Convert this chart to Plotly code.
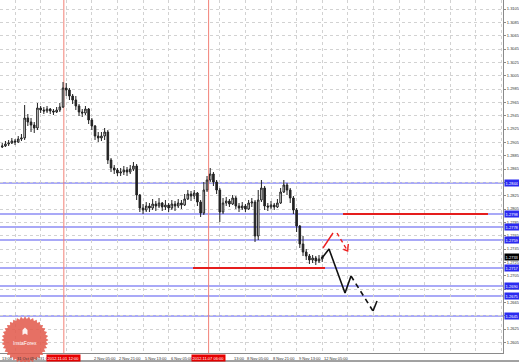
import plotly.graph_objects as go
import numpy as np

# ---------------- data ----------------
# bar position = trading hours after 31 Oct 2012 05:00 (2-hour candles)
BAR_HOURS = list(range(-8, 193, 2))

OPEN = [1.28980, 1.28995, 1.29025, 1.29040, 1.29070, 1.29055, 1.29100, 1.29115, 1.29415, 1.29355,
        1.29310, 1.29265, 1.29565, 1.29535, 1.29520, 1.29550, 1.29520, 1.29505, 1.29535, 1.29580,
        1.29865, 1.29835, 1.29745, 1.29685, 1.29595, 1.29505, 1.29490, 1.29550, 1.29385, 1.29295,
        1.29145, 1.29115, 1.29145, 1.29205, 1.28785, 1.28665, 1.28635, 1.28590, 1.28605, 1.28635,
        1.28605, 1.28650, 1.28695, 1.28260, 1.28065, 1.28035, 1.28095, 1.28065, 1.28125, 1.28095,
        1.28140, 1.28080, 1.28110, 1.28065, 1.28125, 1.28095, 1.28140, 1.28110, 1.28200, 1.28275,
        1.28245, 1.28290, 1.28155, 1.27990, 1.28335, 1.28485, 1.28575, 1.28455, 1.28335, 1.28005,
        1.28140, 1.28170, 1.28125, 1.28215, 1.28095, 1.28065, 1.28095, 1.28050, 1.28140, 1.28155,
        1.27645, 1.28185, 1.28365, 1.28095, 1.28080, 1.28110, 1.28080, 1.28140, 1.28305, 1.28410,
        1.28335, 1.28215, 1.28035, 1.27795, 1.27525, 1.27405, 1.27345, 1.27285, 1.27315, 1.27270,
        1.27300]
HIGH = [1.29040, 1.29070, 1.29085, 1.29115, 1.29100, 1.29145, 1.29175, 1.29610, 1.29475, 1.29415,
        1.29355, 1.29640, 1.29595, 1.29580, 1.29595, 1.29565, 1.29550, 1.29580, 1.29640, 1.29955,
        1.29940, 1.29865, 1.29775, 1.29745, 1.29625, 1.29550, 1.29595, 1.29565, 1.29415, 1.29310,
        1.29205, 1.29205, 1.29265, 1.29235, 1.28815, 1.28710, 1.28665, 1.28665, 1.28695, 1.28680,
        1.28710, 1.28755, 1.28725, 1.28275, 1.28125, 1.28155, 1.28140, 1.28200, 1.28170, 1.28215,
        1.28155, 1.28185, 1.28140, 1.28185, 1.28170, 1.28200, 1.28185, 1.28275, 1.28335, 1.28320,
        1.28335, 1.28305, 1.28185, 1.28455, 1.28545, 1.28665, 1.28605, 1.28485, 1.28365, 1.28215,
        1.28230, 1.28200, 1.28260, 1.28245, 1.28140, 1.28155, 1.28125, 1.28185, 1.28215, 1.28185,
        1.28335, 1.28485, 1.28395, 1.28140, 1.28170, 1.28140, 1.28200, 1.28365, 1.28485, 1.28440,
        1.28365, 1.28245, 1.28065, 1.27810, 1.27645, 1.27450, 1.27375, 1.27360, 1.27345, 1.27360,
        1.27360]
LOW = [1.28965, 1.28980, 1.28995, 1.29025, 1.29010, 1.29040, 1.29070, 1.29085, 1.29295, 1.29205,
       1.29190, 1.29235, 1.29490, 1.29475, 1.29490, 1.29475, 1.29460, 1.29490, 1.29505, 1.29565,
       1.29745, 1.29685, 1.29625, 1.29535, 1.29445, 1.29430, 1.29460, 1.29325, 1.29235, 1.29085,
       1.29055, 1.29070, 1.29085, 1.28725, 1.28605, 1.28575, 1.28545, 1.28545, 1.28560, 1.28545,
       1.28575, 1.28620, 1.28185, 1.28005, 1.27975, 1.28005, 1.28005, 1.28035, 1.28020, 1.28065,
       1.28020, 1.28035, 1.28005, 1.28035, 1.28020, 1.28065, 1.28050, 1.28095, 1.28185, 1.28170,
       1.28200, 1.28095, 1.27930, 1.27960, 1.28305, 1.28455, 1.28395, 1.28275, 1.27855, 1.27975,
       1.28095, 1.28080, 1.28110, 1.28050, 1.28005, 1.28035, 1.28005, 1.28035, 1.28080, 1.27555,
       1.27585, 1.28155, 1.28035, 1.28020, 1.28050, 1.28035, 1.28065, 1.28125, 1.28290, 1.28260,
       1.28140, 1.27975, 1.27705, 1.27465, 1.27345, 1.27285, 1.27225, 1.27240, 1.27210, 1.27240,
       1.27255]
CLOSE = [1.28995, 1.29025, 1.29040, 1.29070, 1.29055, 1.29100, 1.29115, 1.29415, 1.29355, 1.29310,
         1.29265, 1.29565, 1.29535, 1.29520, 1.29550, 1.29520, 1.29505, 1.29535, 1.29580, 1.29865,
         1.29835, 1.29745, 1.29685, 1.29595, 1.29505, 1.29490, 1.29550, 1.29385, 1.29295, 1.29145,
         1.29115, 1.29145, 1.29205, 1.28785, 1.28665, 1.28635, 1.28590, 1.28605, 1.28635, 1.28605,
         1.28650, 1.28695, 1.28260, 1.28065, 1.28035, 1.28095, 1.28065, 1.28125, 1.28095, 1.28140,
         1.28080, 1.28110, 1.28065, 1.28125, 1.28095, 1.28140, 1.28110, 1.28200, 1.28275, 1.28245,
         1.28290, 1.28155, 1.27990, 1.28335, 1.28485, 1.28575, 1.28455, 1.28335, 1.28005, 1.28140,
         1.28170, 1.28125, 1.28215, 1.28095, 1.28065, 1.28095, 1.28050, 1.28140, 1.28155, 1.27645,
         1.28185, 1.28365, 1.28095, 1.28080, 1.28110, 1.28080, 1.28140, 1.28305, 1.28410, 1.28335,
         1.28215, 1.28035, 1.27795, 1.27525, 1.27405, 1.27345, 1.27285, 1.27315, 1.27270, 1.27300,
         1.27330]

# price scale
PRICE_TICKS = [1.3105, 1.3085, 1.3065, 1.3045, 1.3025, 1.3005, 1.2985, 1.2965, 1.2945, 1.2925,
               1.2905, 1.2885, 1.2865, 1.2845, 1.2825, 1.2805, 1.2785, 1.2765, 1.2745, 1.2725,
               1.2705, 1.2685, 1.2665, 1.2645, 1.2625, 1.2605]
PRICE_TICK_LABELS = ["1.3105", "1.3085", "1.3065", "1.3045", "1.3025", "1.3005", "1.2985", "1.2965",
                     "1.2945", "1.2925", "1.2905", "1.2885", "1.2865", "1.2845", "1.2825", "1.2805",
                     "1.2785", "1.2765", "1.2745", "1.2725", "1.2705", "1.2685", "1.2665", "1.2645",
                     "1.2625", "1.2605"]

# time scale (grid every 16 trading hours)
TIME_GRID_HOURS = [-16, 0, 16, 32, 48, 64, 80, 96, 112, 128, 144, 160, 176, 192,
                   208, 224, 240, 256, 272, 288, 304]
# visible time labels (left aligned at their tick, as in the terminal)
TIME_LABEL_HOURS = [-9.4, 0, 14.2, 48, 64, 80, 96, 135.5, 144, 160, 176, 192]
TIME_LABELS = ["13:00", "31 Oct 05:00", "31 Oc", "2 Nov 05:00", "2 Nov 21:00", "5 Nov 13:00",
               "6 Nov 05:00", "13:00", "8 Nov 05:00", "8 Nov 21:00", "9 Nov 13:00", "12 Nov 05:00"]

# horizontal support / resistance levels (blue)
LEVELS = [1.28440, 1.27975, 1.27780, 1.27585, 1.27165, 1.26895, 1.26745, 1.26445]
LEVEL_LABELS = ["1.2844", "1.2798", "1.2778", "1.2759", "1.2717", "1.2690", "1.2675", "1.2645"]
CURRENT_PRICE = 1.27330
CURRENT_LABEL = "1.2733"

# red horizontal segments: start hour, end hour, price
RED_SEG_START = [205.0, 111.25]
RED_SEG_END = [295.6, 193.75]
RED_SEG_PRICE = [1.27975, 1.27165]

# red vertical lines
VLINE_HOURS = [30.5, 121.0]
VLINE_LABELS = ["2012.11.01 12:00", "2012.11.07 06:00"]

# forecast paths
BLACK_SOLID_X = [191.9, 196.25, 206.25, 210.0]
BLACK_SOLID_Y = [1.27315, 1.27450, 1.26790, 1.27045]
BLACK_DASH_X = [210.0, 223.75]
BLACK_DASH_Y = [1.27045, 1.26520]
BLACK_HOOK_X = [223.75, 226.25]
BLACK_HOOK_Y = [1.26520, 1.26670]
RED_SOLID_X = [192.5, 198.75]
RED_SOLID_Y = [1.27465, 1.27690]
RED_DASH_X = [201.25, 207.9]
RED_DASH_Y = [1.27690, 1.27420]
RED_HEAD_X = [205.2, 207.9, 208.3]
RED_HEAD_Y = [1.27446, 1.27420, 1.27525]

# ---------------- layout constants ----------------
W, H = 519, 362
ML, MR, MT, MB = 0, 16, 0, 9
PW, PH = W - ML - MR, H - MT - MB
XMIN, XMAX = -9.4, 305.0
YMIN, YMAX = 1.25890, 1.31185
FONT = "Liberation Sans, Arial, sans-serif"
GRID = "#d2d2d2"


def xpaper(h):
    return (h - XMIN) / (XMAX - XMIN)


def px2paper(px, py):
    return (px - ML) / PW, (H - MB - py) / PH


fig = go.Figure()

fig.add_trace(go.Candlestick(
    x=BAR_HOURS, open=OPEN, high=HIGH, low=LOW, close=CLOSE,
    increasing=dict(line=dict(color="#222222", width=1), fillcolor="#ffffff"),
    decreasing=dict(line=dict(color="#222222", width=1), fillcolor="#222222"),
    whiskerwidth=0, hoverinfo="skip", showlegend=False,
))

# forecast paths
fig.add_trace(go.Scatter(x=BLACK_SOLID_X, y=BLACK_SOLID_Y, mode="lines",
                         line=dict(color="#111111", width=1.6), hoverinfo="skip"))
fig.add_trace(go.Scatter(x=BLACK_DASH_X, y=BLACK_DASH_Y, mode="lines",
                         line=dict(color="#111111", width=1.6, dash="5px,4px"), hoverinfo="skip"))
fig.add_trace(go.Scatter(x=BLACK_HOOK_X, y=BLACK_HOOK_Y, mode="lines",
                         line=dict(color="#111111", width=1.6), hoverinfo="skip"))
fig.add_trace(go.Scatter(x=RED_SOLID_X, y=RED_SOLID_Y, mode="lines",
                         line=dict(color="#ee2020", width=1.4), hoverinfo="skip"))
fig.add_trace(go.Scatter(x=RED_DASH_X, y=RED_DASH_Y, mode="lines",
                         line=dict(color="#ee2020", width=1.4, dash="4px,3px"), hoverinfo="skip"))
fig.add_trace(go.Scatter(x=RED_HEAD_X, y=RED_HEAD_Y, mode="lines",
                         line=dict(color="#ee2020", width=1.4), hoverinfo="skip"))

shapes = []
for lv in LEVELS:
    shapes.append(dict(type="line", xref="paper", yref="y", x0=0, x1=1, y0=lv, y1=lv,
                       line=dict(color="rgb(140,140,245)", width=1.5), layer="between"))
for s, e, p in zip(RED_SEG_START, RED_SEG_END, RED_SEG_PRICE):
    shapes.append(dict(type="line", xref="x", yref="y", x0=s, x1=e, y0=p, y1=p,
                       line=dict(color="#e51d1d", width=1.8), layer="between"))
for vh in VLINE_HOURS:
    shapes.append(dict(type="line", xref="x", yref="paper", x0=vh, x1=vh, y0=0, y1=1,
                       line=dict(color="rgb(242,128,118)", width=1), layer="between"))
bx0, by = px2paper(0, 361)
shapes.append(dict(type="line", xref="paper", yref="paper", x0=0, x1=W / PW, y0=by, y1=by,
                   line=dict(color="#444444", width=1), layer="above"))

# InstaForex logo (decorative starburst)
cx, cy = 25, 340
n = 36
ang = np.linspace(0, 2 * np.pi, 2 * n, endpoint=False)
rad = np.where(np.arange(2 * n) % 2 == 0, 23.5, 21.0)
pts = [px2paper(cx + r * np.cos(a), cy + r * np.sin(a)) for r, a in zip(rad, ang)]
path = "M " + " L ".join(f"{x:.5f},{y:.5f}" for x, y in pts) + " Z"
shapes.append(dict(type="path", xref="paper", yref="paper", path=path,
                   fillcolor="rgba(226,92,78,0.88)", line=dict(width=0), layer="above"))
icon = [(22.5, 335), (22.5, 330), (25, 327.5), (27.5, 330), (27.5, 335), (25, 333.5)]
ipts = [px2paper(x, y) for x, y in icon]
ipath = "M " + " L ".join(f"{x:.5f},{y:.5f}" for x, y in ipts) + " Z"
shapes.append(dict(type="path", xref="paper", yref="paper", path=ipath,
                   fillcolor="rgba(255,255,255,0.9)", line=dict(width=0), layer="above"))

annotations = []
for hh, lab in zip(TIME_LABEL_HOURS, TIME_LABELS):
    annotations.append(dict(x=xpaper(hh), y=0, xref="paper", yref="paper", text=lab,
                            xanchor="left", yanchor="top", yshift=-1, showarrow=False,
                            font=dict(size=4, color="#333333", family=FONT)))
for vh, lab in zip(VLINE_HOURS, VLINE_LABELS):
    annotations.append(dict(x=vh, y=0, xref="x", yref="paper", text=lab,
                            xanchor="center", yanchor="top", yshift=-1, showarrow=False,
                            bgcolor="#e60000", borderpad=0.6,
                            font=dict(size=4, color="#ffffff", family=FONT)))
for lv, lab in zip(LEVELS, LEVEL_LABELS):
    annotations.append(dict(x=1, y=lv, xref="paper", yref="y", text=lab,
                            xanchor="left", yanchor="middle", xshift=0.5, showarrow=False,
                            bgcolor="#2b2bf0", borderpad=0.6,
                            font=dict(size=4, color="#ffffff", family=FONT)))
annotations.append(dict(x=1, y=CURRENT_PRICE, xref="paper", yref="y", text=CURRENT_LABEL,
                        xanchor="left", yanchor="middle", xshift=0.5, showarrow=False,
                        bgcolor="#000000", borderpad=0.6,
                        font=dict(size=4, color="#ffffff", family=FONT)))
lx, ly = px2paper(25, 343)
annotations.append(dict(x=lx, y=ly, xref="paper", yref="paper", text="InstaForex",
                        xanchor="center", yanchor="middle", showarrow=False,
                        font=dict(size=5, color="#ffffff", family=FONT)))

fig.update_layout(
    width=W, height=H,
    margin=dict(l=ML, r=MR, t=MT, b=MB, pad=0),
    paper_bgcolor="#ffffff", plot_bgcolor="#ffffff",
    showlegend=False,
    shapes=shapes, annotations=annotations,
    xaxis=dict(range=[XMIN, XMAX], tickvals=TIME_GRID_HOURS, showticklabels=False, ticks="",
               showgrid=True, gridcolor=GRID, griddash="dot", gridwidth=1,
               zeroline=False, showline=True, linecolor="#8a8a8a", linewidth=1,
               rangeslider=dict(visible=False), fixedrange=True),
    yaxis=dict(range=[YMIN, YMAX], side="right", tickvals=PRICE_TICKS, ticktext=PRICE_TICK_LABELS,
               tickfont=dict(size=4, color="#333333", family=FONT),
               ticks="outside", ticklen=2, tickcolor="#8a8a8a",
               showgrid=True, gridcolor=GRID, griddash="dot", gridwidth=1,
               zeroline=False, showline=True, linecolor="#8a8a8a", linewidth=1,
               fixedrange=True),
)

fig.write_html("out.html")
